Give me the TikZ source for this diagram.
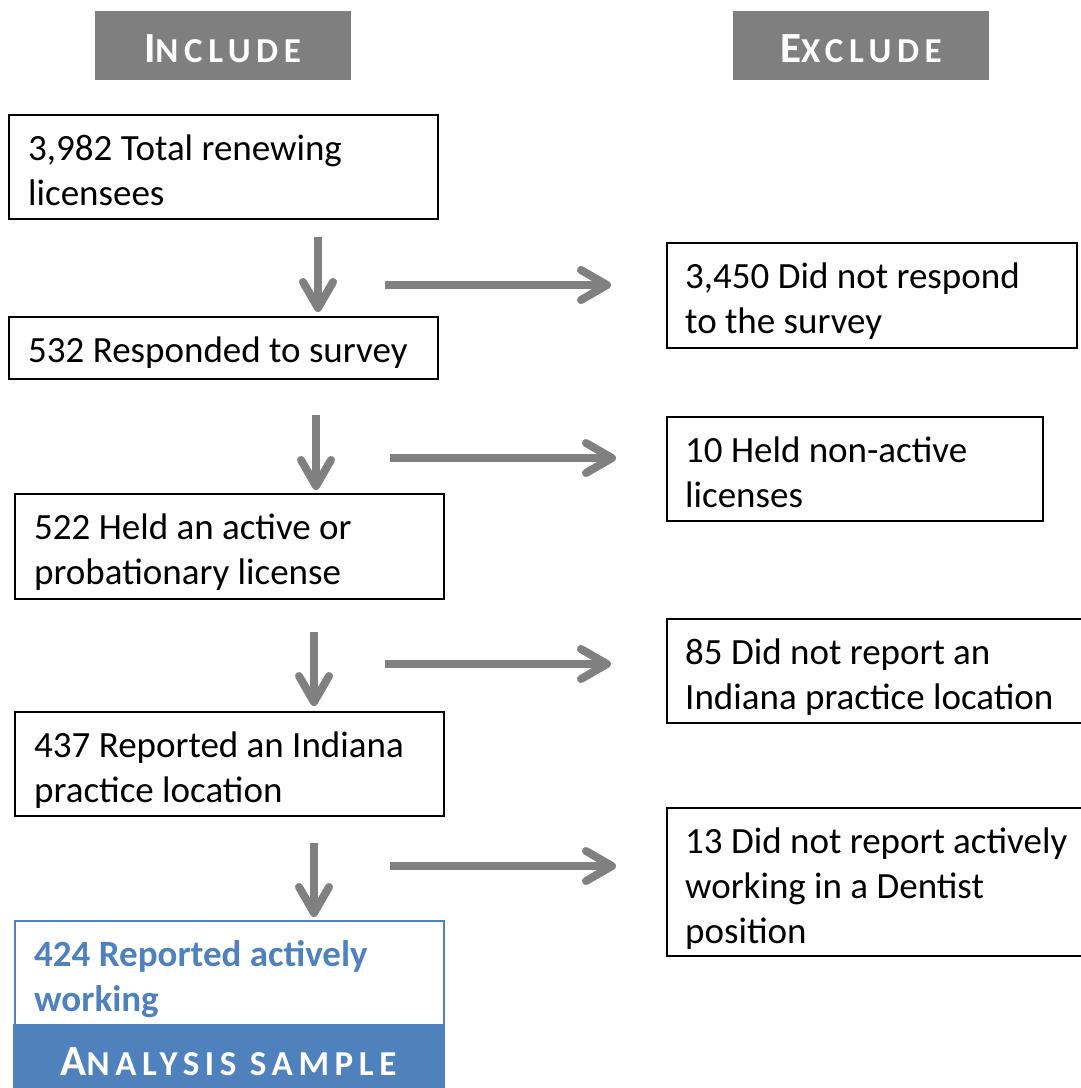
\documentclass[tikz,border=0pt]{standalone}
\usepackage{fontspec}
\setmainfont{Carlito}
\newfontfamily\hdrfont[LetterSpace=16]{Carlito}
\usetikzlibrary{arrows.meta}
\definecolor{hdrgray}{RGB}{127,127,127}
\definecolor{arrgray}{RGB}{128,128,128}
\definecolor{accblue}{RGB}{79,129,189}
\newcommand{\fsc}[2]{{\fontsize{43}{43}\selectfont #1}{\fontsize{35}{35}\selectfont #2}}
\newcommand{\mylines}[1]{\begin{tabular}[t]{@{}l@{}}#1\end{tabular}}
\begin{document}
\begin{tikzpicture}[x=1pt,y=-1pt,
  box/.style={draw=black, line width=1.5pt, fill=white, inner sep=0pt, anchor=north west},
  hdr/.style={fill=hdrgray, inner sep=0pt, anchor=north west, minimum width=256pt, minimum height=69pt},
  hdrtxt/.style={anchor=base, inner sep=0pt, text=white, font=\hdrfont\bfseries},
  txt/.style={inner sep=0pt, anchor=base west, font=\fontsize{37}{45}\selectfont},
  flow/.style={draw=arrgray, line width=8pt, -{Straight Barb[length=26pt,width=30pt,round]}},
]
\useasboundingbox (0,0) rectangle (1081,1088);
\clip (0,0) rectangle (1081,1088);

% headers
\node[hdr] (inc) at (95,11) {};
\node[hdrtxt] (inct) at (222.5,62) {\fsc{I}{NCLUDE}};
\node[hdr] (exc) at (733,11) {};
\node[hdrtxt] (exct) at (861,62) {\fsc{E}{XCLUDE}};

% include column
\node[box, minimum width=429pt, minimum height=104pt] (b1) at (8,114) {};
\node[txt] (b1t) at (28,160) {\mylines{3,982 Total renewing\\licensees}};

\node[box, minimum width=429pt, minimum height=62pt] (b2) at (8,316) {};
\node[txt] (b2t) at (28,362) {532 Responded to survey};

\node[box, minimum width=429pt, minimum height=105pt] (b3) at (14,493) {};
\node[txt] (b3t) at (34,539) {\mylines{522 Held an active or\\probationary license}};

\node[box, minimum width=429pt, minimum height=104pt] (b4) at (14,711) {};
\node[txt] (b4t) at (34,757) {\mylines{437 Reported an Indiana\\practice location}};

% final box
\node[box, draw=accblue, minimum width=429pt, minimum height=180pt] (fin) at (14,920) {};
\node[fill=accblue, inner sep=0pt, anchor=north west, minimum width=430.5pt, minimum height=70pt] (band) at (13.25,1024) {};
\begin{scope}
\clip (14,920) rectangle (443,1017);
\node[txt, text=accblue] (fint) at (34,966) {\bfseries\mylines{424 Reported actively\\working}};
\end{scope}
\node[hdrtxt] (bandt) at (228.5,1075) {\fsc{A}{NALYSIS SAMPLE}};

% exclude column
\node[box, minimum width=410pt, minimum height=105pt] (e1) at (666,242) {};
\node[txt] (e1t) at (685,288) {\mylines{3,450 Did not respond\\to the survey}};

\node[box, minimum width=376pt, minimum height=104pt] (e2) at (666,416) {};
\node[txt] (e2t) at (685,462) {\mylines{10 Held non-active\\licenses}};

\node[box, minimum width=430pt, minimum height=104pt] (e3) at (666,618) {};
\node[txt] (e3t) at (685,664) {\mylines{85 Did not report an\\Indiana practice location}};

\node[box, minimum width=430pt, minimum height=148pt] (e4) at (666,807) {};
\begin{scope}
\clip (666,807) rectangle (1090,953);
\node[txt] (e4t) at (685,853) {\mylines{13 Did not report actively\\working in a Dentist\\position}};
\end{scope}

% arrows
\coordinate (d1s) at (318,237); \coordinate (d1e) at (318,312);
\coordinate (d2s) at (316,415); \coordinate (d2e) at (316,490);
\coordinate (d3s) at (314,632); \coordinate (d3e) at (314,706);
\coordinate (d4s) at (314,843); \coordinate (d4e) at (314,917);
\coordinate (r1s) at (385,285); \coordinate (r1e) at (611,285);
\coordinate (r2s) at (390,458); \coordinate (r2e) at (616,458);
\coordinate (r3s) at (385,664); \coordinate (r3e) at (611,664);
\coordinate (r4s) at (390,866); \coordinate (r4e) at (616,866);
\foreach \a in {d1,d2,d3,d4,r1,r2,r3,r4}
  \draw[flow] (\a s) -- (\a e);
\end{tikzpicture}
\end{document}
